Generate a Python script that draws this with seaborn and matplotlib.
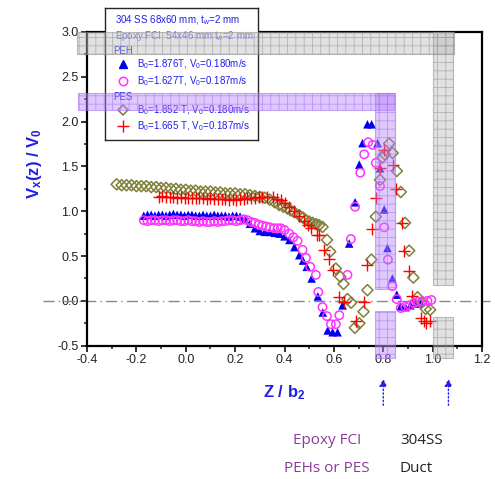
import numpy as np
import pandas as pd
from matplotlib import pyplot as plt
from matplotlib.patches import Rectangle
from matplotlib.ticker import MultipleLocator
import seaborn as sns

# %%
# B0=1.876T, V0=0.180m/s (PEH)
tri_x = [-0.17, -0.155, -0.14, -0.125, -0.11, -0.095, -0.08, -0.065, -0.05, -0.035,
         -0.02, -0.005, 0.01, 0.025, 0.04, 0.055, 0.07, 0.085, 0.10, 0.115, 0.13,
         0.145, 0.16, 0.175, 0.19, 0.205, 0.22, 0.24, 0.26, 0.28, 0.30, 0.32, 0.34,
         0.36, 0.38, 0.40, 0.42, 0.44, 0.46, 0.475, 0.49, 0.51, 0.535, 0.555, 0.575,
         0.595, 0.615, 0.635, 0.662, 0.686, 0.703, 0.716, 0.736, 0.753, 0.777,
         0.787, 0.804, 0.817, 0.837, 0.855, 0.871, 0.89, 0.91, 0.93, 0.95]
tri_y = [0.95, 0.96, 0.96, 0.95, 0.96, 0.96, 0.95, 0.96, 0.97, 0.96,
         0.96, 0.95, 0.96, 0.96, 0.95, 0.95, 0.96, 0.95, 0.95, 0.96, 0.95,
         0.95, 0.95, 0.94, 0.95, 0.95, 0.94, 0.91, 0.86, 0.81, 0.78, 0.77, 0.77,
         0.76, 0.75, 0.72, 0.68, 0.60, 0.51, 0.45, 0.38, 0.25, 0.05, -0.13, -0.33,
         -0.35, -0.35, -0.05, 0.64, 1.10, 1.52, 1.76, 1.97, 1.97, 1.76,
         1.48, 1.02, 0.59, 0.25, 0.07, -0.06, -0.07, -0.05, -0.03, -0.02]

# B0=1.627T, V0=0.187m/s (PEH)
circ_x = [-0.17, -0.155, -0.14, -0.125, -0.11, -0.095, -0.08, -0.065, -0.05, -0.035,
          -0.02, -0.005, 0.01, 0.025, 0.04, 0.055, 0.07, 0.085, 0.10, 0.115, 0.13,
          0.145, 0.16, 0.175, 0.19, 0.205, 0.22, 0.235, 0.25, 0.265, 0.28, 0.295,
          0.31, 0.325, 0.34, 0.358, 0.372, 0.385, 0.40, 0.419, 0.436, 0.453, 0.473,
          0.487, 0.504, 0.527, 0.537, 0.554, 0.572, 0.588, 0.608, 0.622, 0.655,
          0.669, 0.686, 0.707, 0.723, 0.739, 0.757, 0.77, 0.787, 0.804, 0.819,
          0.837, 0.855, 0.871, 0.889, 0.907, 0.924, 0.941, 0.959, 0.979, 0.995]
circ_y = [0.90, 0.89, 0.90, 0.90, 0.89, 0.90, 0.90, 0.89, 0.90, 0.90,
          0.89, 0.89, 0.90, 0.89, 0.89, 0.88, 0.89, 0.88, 0.88, 0.89, 0.88,
          0.89, 0.89, 0.90, 0.90, 0.89, 0.90, 0.91, 0.90, 0.88, 0.87, 0.85,
          0.84, 0.83, 0.82, 0.81, 0.81, 0.81, 0.79, 0.75, 0.71, 0.67, 0.57,
          0.48, 0.38, 0.29, 0.10, -0.07, -0.17, -0.26, -0.26, -0.16, 0.29,
          0.69, 1.05, 1.43, 1.635, 1.77, 1.74, 1.54, 1.28, 0.82, 0.46,
          0.165, 0.02, -0.08, -0.065, -0.05, -0.025, -0.01, -0.005, 0.0, 0.01]

# B0=1.852T, V0=0.180m/s (PES)
dia_x = [-0.28, -0.26, -0.24, -0.22, -0.20, -0.18, -0.16, -0.14, -0.12, -0.10,
         -0.08, -0.06, -0.04, -0.02, 0.00, 0.02, 0.04, 0.06, 0.08, 0.10, 0.12,
         0.14, 0.16, 0.18, 0.20, 0.22, 0.24, 0.26, 0.28, 0.30, 0.32, 0.34, 0.36,
         0.378, 0.395, 0.412, 0.425, 0.439, 0.46, 0.475, 0.487, 0.50, 0.514,
         0.528, 0.54, 0.554, 0.572, 0.585, 0.608, 0.626, 0.639, 0.655, 0.67,
         0.685, 0.703, 0.72, 0.736, 0.752, 0.77, 0.787, 0.797, 0.806, 0.824,
         0.838, 0.855, 0.871, 0.888, 0.905, 0.922, 0.939, 0.955, 0.972, 0.99]
dia_y = [1.30, 1.29, 1.29, 1.29, 1.28, 1.28, 1.28, 1.27, 1.27, 1.26,
         1.26, 1.25, 1.25, 1.24, 1.24, 1.23, 1.23, 1.22, 1.22, 1.22, 1.21,
         1.21, 1.20, 1.20, 1.20, 1.19, 1.19, 1.18, 1.17, 1.16, 1.15, 1.13, 1.10,
         1.07, 1.05, 1.03, 1.01, 0.99, 0.955, 0.93, 0.90, 0.885, 0.87,
         0.855, 0.845, 0.825, 0.68, 0.55, 0.36, 0.27, 0.19, 0.02, -0.02,
         -0.30, -0.25, -0.12, 0.12, 0.46, 0.94, 1.35, 1.60, 1.635, 1.755,
         1.65, 1.45, 1.215, 0.87, 0.56, 0.26, 0.04, -0.02, -0.09, -0.10]

# B0=1.665T, V0=0.187m/s (PES)
plus_x = [-0.11, -0.095, -0.08, -0.065, -0.05, -0.035, -0.02, -0.005, 0.01, 0.025,
          0.04, 0.055, 0.07, 0.085, 0.10, 0.115, 0.13, 0.145, 0.16, 0.175, 0.19,
          0.205, 0.22, 0.235, 0.25, 0.265, 0.28, 0.295, 0.31, 0.331, 0.352, 0.37,
          0.385, 0.40, 0.42, 0.44, 0.46, 0.48, 0.495, 0.507, 0.531, 0.541, 0.561,
          0.581, 0.595, 0.622, 0.642, 0.689, 0.723, 0.734, 0.753, 0.77, 0.787,
          0.804, 0.838, 0.851, 0.875, 0.885, 0.905, 0.915, 0.952, 0.966, 0.975, 0.99]
plus_y = [1.16, 1.17, 1.16, 1.16, 1.16, 1.15, 1.16, 1.15, 1.15, 1.15,
          1.15, 1.15, 1.15, 1.14, 1.15, 1.14, 1.14, 1.14, 1.14, 1.13, 1.14,
          1.13, 1.14, 1.14, 1.15, 1.15, 1.15, 1.16, 1.16, 1.16, 1.16, 1.14,
          1.12, 1.09, 1.05, 1.00, 0.95, 0.89, 0.85, 0.81, 0.73, 0.73, 0.565,
          0.47, 0.34, 0.045, -0.01, -0.23, -0.01, 0.40, 0.80, 1.15, 1.48,
          1.68, 1.52, 1.25, 0.87, 0.56, 0.33, 0.06, -0.19, -0.23, -0.25, -0.23]

x_ticks = [-0.4, -0.2, 0.0, 0.2, 0.4, 0.6, 0.8, 1.0, 1.2]
y_ticks = [-0.5, 0.0, 0.5, 1.0, 1.5, 2.0, 2.5, 3.0]

legend_labels = ['B$_0$=1.876T, V$_0$=0.180m/s', 'B$_0$=1.627T, V$_0$=0.187m/s',
                 'B$_0$=1.852 T, V$_0$=0.180m/s', 'B$_0$=1.665 T, V$_0$=0.187m/s']

# %%
sns.set_style("ticks")
plt.rcParams['font.family'] = ['Liberation Sans', 'DejaVu Sans']
plt.rcParams['axes.unicode_minus'] = False
plt.rcParams['mathtext.fontset'] = 'custom'
plt.rcParams['mathtext.rm'] = 'Liberation Sans'
plt.rcParams['mathtext.bf'] = 'Liberation Sans:bold'
plt.rcParams['mathtext.it'] = 'Liberation Sans:italic'
plt.rcParams['mathtext.default'] = 'regular'
plt.rcParams['hatch.linewidth'] = 0.6

blue = '#1f1fe8'
olive = '#7f7f3a'

fig = plt.figure(figsize=(4.95, 4.79), dpi=100)
ax = fig.add_axes([0.1758, 0.2783, 0.7979, 0.6549])

sns.scatterplot(x=tri_x, y=tri_y, marker='^', s=38, color='#0000ee', edgecolor='none', ax=ax, zorder=3)
sns.scatterplot(x=circ_x, y=circ_y, marker='o', s=36, facecolor='none', edgecolor='#ff33ff', linewidth=1.1, ax=ax, zorder=4)
sns.scatterplot(x=dia_x, y=dia_y, marker='D', s=32, facecolor='none', edgecolor=olive, linewidth=1.1, ax=ax, zorder=3)
sns.scatterplot(x=plus_x, y=plus_y, marker='+', s=70, color='red', linewidth=1.0, ax=ax, zorder=3)

ax.set_xlim(-0.4, 1.2)
ax.set_ylim(-0.5, 3.0)
ax.set_xticks(x_ticks)
ax.set_yticks(y_ticks)
ax.xaxis.set_minor_locator(MultipleLocator(0.1))
ax.yaxis.set_minor_locator(MultipleLocator(0.25))
ax.tick_params(which='major', direction='out', length=4, width=1.3, labelsize=9, colors='#222', pad=2)
ax.tick_params(which='minor', direction='out', length=2.5, width=1.1, colors='#222')
for s in ax.spines.values():
    s.set_linewidth(1.6)
    s.set_color('black')

# zero line runs past both sides
ax.axhline(0, xmin=-0.111, xmax=1.02, color='#888888', lw=1, linestyle=(0, (8, 3, 1, 3)), clip_on=False, zorder=1)

ax.set_xlabel(r'Z / b$_{\mathbf{2}}$', color=blue, fontsize=12, fontweight='bold')
ax.set_ylabel(r'V$_{\mathbf{x}}$(z) / V$_{\mathbf{0}}$', color=blue, fontsize=12, fontweight='bold')
ax.xaxis.set_label_coords(0.5, -0.12)
ax.yaxis.set_label_coords(-0.11, 0.58)

# legend box
lax = fig.add_axes([0.2121, 0.7077, 0.309, 0.2756])
lax.set_xlim(0, 1)
lax.set_ylim(0, 1)
lax.set_xticks([])
lax.set_yticks([])
for s in lax.spines.values():
    s.set_linewidth(1.0)
lax.text(0.065, 0.909, '304 SS 68x60 mm, t$_w$=2 mm', color=blue, fontsize=7, va='center')
lax.text(0.065, 0.788, 'Epoxy FCI  54x46 mm t$_w$=2 mm', color='#6a6ae8', fontsize=7, va='center')
lax.text(0.052, 0.674, 'PEH', color=blue, fontsize=7, va='center')
lax.text(0.052, 0.326, 'PES', color=blue, fontsize=7, va='center')
row_y = [0.576, 0.447, 0.227, 0.106]
lax.plot(0.118, row_y[0], marker='^', ms=6, color='#0000ee', ls='none')
lax.plot(0.118, row_y[1], marker='o', ms=6, mfc='none', mec='#ff33ff', mew=1.1, ls='none')
lax.plot(0.118, row_y[2], marker='D', ms=5, mfc='none', mec=olive, mew=1.1, ls='none')
lax.plot(0.118, row_y[3], marker='+', ms=8, color='red', mew=1.0, ls='none')
for lab, yy in zip(legend_labels, row_y):
    lax.text(0.209, yy, lab, color=blue, fontsize=7, va='center')

# shaded bands (drawn over everything)
gray_face = (0.72, 0.72, 0.72, 0.42)
gray_edge = (0.55, 0.55, 0.55, 0.55)
purp_face = (0.72, 0.52, 0.98, 0.45)
purp_edge = (0.62, 0.42, 0.95, 0.55)
bands = [
    ((-0.44, 2.76), 1.526, 0.24, gray_face, gray_edge),
    ((1.003, 0.175), 0.08, 2.825, gray_face, gray_edge),
    ((1.003, -0.635), 0.08, 0.45, gray_face, gray_edge),
    ((-0.436, 2.126), 1.279, 0.189, purp_face, purp_edge),
    ((0.767, 0.138), 0.081, 2.177, purp_face, purp_edge),
    ((0.767, -0.635), 0.081, 0.524, purp_face, purp_edge),
]
for xy, w, h, fc, ec in bands:
    r = Rectangle(xy, w, h, transform=ax.transData, facecolor=fc, edgecolor=ec,
                  hatch='++', lw=0.8, clip_on=False, zorder=5)
    fig.add_artist(r)

# arrows under the axis
for xa in [0.8, 1.064]:
    ax.annotate('', xy=(xa, -0.105), xytext=(xa, -0.19),
                xycoords=('data', 'axes fraction'), textcoords=('data', 'axes fraction'),
                arrowprops=dict(arrowstyle='-|>', color=blue, lw=1.0, linestyle=':',
                                mutation_scale=11, shrinkA=0, shrinkB=0))

# material labels
txt_font = ['Open Sans', 'DejaVu Sans']
fig.text(0.661, 0.081, 'Epoxy FCI', color='#8e3a9d', fontsize=11, ha='center', va='center', family=txt_font)
fig.text(0.661, 0.021, 'PEHs or PES', color='#8e3a9d', fontsize=11, ha='center', va='center', family=txt_font)
fig.text(0.808, 0.081, '304SS', color='#222222', fontsize=11, ha='left', va='center', family=txt_font)
fig.text(0.808, 0.021, 'Duct', color='#222222', fontsize=11, ha='left', va='center', family=txt_font)

fig.savefig('out.png', dpi=100)
